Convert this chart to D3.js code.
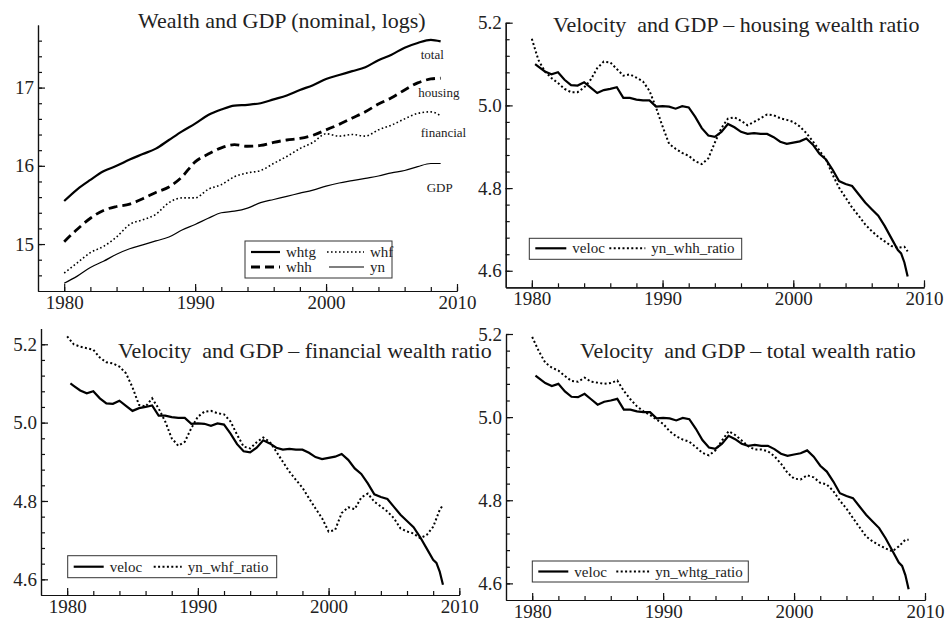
<!DOCTYPE html>
<html>
<head>
<meta charset="utf-8">
<script src="https://cdn.jsdelivr.net/npm/d3@7"></script>
<style>
  body { margin: 0; background: #fff; }
  svg text { font-family: "Liberation Serif", "DejaVu Serif", serif; fill: #222; white-space: pre; }
</style>
</head>
<body>
<div id="chart"></div>
<script>
// Size of the page
var width = 947;
var height = 621;

// Years (annual for the wealth panel, half-yearly for the ratio panels)
var wealthYears = d3.range(1980, 2009, 1).concat([2008.75]);
var ratioYears = d3.range(1980, 2008.51, 0.5).concat([2008.75]);
var velocYears = [1980.25].concat(d3.range(1980.5, 2008.01, 0.5), [2008.25, 2008.5, 2008.75]);

// Wealth and GDP (nominal, logs)
var whtg = [15.55, 15.70, 15.82, 15.93, 16.00, 16.08, 16.15, 16.22, 16.33, 16.44,
  16.54, 16.65, 16.72, 16.77, 16.78, 16.80, 16.85, 16.90, 16.97, 17.03,
  17.11, 17.16, 17.21, 17.26, 17.35, 17.42, 17.51, 17.57, 17.61, 17.59];
var whh = [15.03, 15.19, 15.33, 15.43, 15.48, 15.51, 15.58, 15.66, 15.73, 15.86,
  16.05, 16.15, 16.23, 16.27, 16.25, 16.26, 16.30, 16.33, 16.35, 16.39,
  16.46, 16.53, 16.61, 16.69, 16.79, 16.87, 16.97, 17.06, 17.11, 17.12];
var whf = [14.63, 14.76, 14.89, 14.97, 15.09, 15.25, 15.31, 15.38, 15.53, 15.59,
  15.59, 15.70, 15.76, 15.86, 15.91, 15.94, 16.03, 16.12, 16.22, 16.30,
  16.41, 16.38, 16.40, 16.38, 16.46, 16.52, 16.60, 16.67, 16.69, 16.64];
var yn = [14.50, 14.59, 14.70, 14.78, 14.87, 14.94, 14.99, 15.04, 15.09, 15.18,
  15.25, 15.33, 15.40, 15.42, 15.46, 15.53, 15.57, 15.61, 15.65, 15.69,
  15.74, 15.78, 15.81, 15.84, 15.87, 15.91, 15.94, 15.99, 16.03, 16.03];

// Velocity (same series in the three ratio panels)
var veloc = [5.100, 5.094, 5.082, 5.075, 5.080, 5.062, 5.049, 5.048, 5.056, 5.043,
  5.030, 5.037, 5.040, 5.044, 5.018, 5.018, 5.014, 5.012, 5.012, 4.997,
  4.998, 4.997, 4.992, 4.998, 4.995, 4.972, 4.945, 4.927, 4.924, 4.936,
  4.955, 4.947, 4.936, 4.931, 4.933, 4.931, 4.931, 4.923, 4.912, 4.907,
  4.910, 4.913, 4.920, 4.905, 4.883, 4.869, 4.845, 4.817, 4.810, 4.805,
  4.785, 4.765, 4.749, 4.733, 4.708, 4.679, 4.650, 4.642, 4.620, 4.586];

// GDP / wealth ratios
var ynWhhRatio = [5.161, 5.110, 5.082, 5.066, 5.054, 5.040, 5.032, 5.032, 5.043, 5.062,
  5.090, 5.106, 5.104, 5.088, 5.072, 5.075, 5.067, 5.058, 5.035, 4.995,
  4.949, 4.907, 4.895, 4.885, 4.878, 4.865, 4.858, 4.872, 4.910, 4.945,
  4.968, 4.971, 4.963, 4.952, 4.960, 4.969, 4.978, 4.976, 4.969, 4.965,
  4.960, 4.949, 4.933, 4.913, 4.891, 4.869, 4.833, 4.801, 4.777, 4.753,
  4.733, 4.712, 4.696, 4.682, 4.671, 4.660, 4.656, 4.658, 4.647];
var ynWhfRatio = [5.220, 5.200, 5.194, 5.190, 5.186, 5.166, 5.154, 5.151, 5.143, 5.126,
  5.090, 5.045, 5.041, 5.062, 5.036, 5.003, 4.960, 4.941, 4.951, 4.986,
  5.015, 5.028, 5.030, 5.024, 5.021, 5.003, 4.969, 4.939, 4.934, 4.950,
  4.962, 4.951, 4.926, 4.900, 4.875, 4.854, 4.834, 4.807, 4.781, 4.756,
  4.722, 4.726, 4.769, 4.784, 4.779, 4.809, 4.819, 4.798, 4.786, 4.773,
  4.756, 4.730, 4.722, 4.717, 4.705, 4.713, 4.734, 4.777, 4.790];
var ynWhtgRatio = [5.193, 5.159, 5.131, 5.119, 5.112, 5.099, 5.087, 5.085, 5.095, 5.085,
  5.083, 5.080, 5.082, 5.088, 5.063, 5.043, 5.026, 5.014, 5.005, 4.994,
  4.984, 4.966, 4.954, 4.946, 4.941, 4.928, 4.914, 4.908, 4.920, 4.944,
  4.966, 4.957, 4.944, 4.930, 4.922, 4.922, 4.918, 4.906, 4.888, 4.866,
  4.852, 4.850, 4.860, 4.855, 4.842, 4.838, 4.822, 4.799, 4.780, 4.757,
  4.735, 4.713, 4.701, 4.692, 4.684, 4.677, 4.689, 4.705, 4.705];

// Tick labels
var yearTicks = [1980, 1990, 2000, 2010];
var wealthTicks = [15, 16, 17];
var ratioTicks = [4.6, 4.8, 5.0, 5.2];

var svg = d3.select("#chart")
  .append("svg")
  .attr("width", width)
  .attr("height", height);

// Line styles
var styles = {
  thick: { width: 2.2, dash: null },
  dashed: { width: 2.8, dash: "9,5" },
  dotted: { width: 1.6, dash: "1.6,2.4" },
  thin: { width: 1.2, dash: null },
  dots: { width: 2, dash: "2,2.4" }
};

function drawPanel(p) {
  var x = d3.scaleLinear().domain([1978, 2010]).range([p.left, p.right]);
  var y = d3.scaleLinear().domain(p.yDomain).range([p.bottom, p.top]);
  var g = svg.append("g");

  // x axis: minor ticks every 2 years, labelled ticks every 10
  g.append("g")
    .attr("transform", "translate(0," + p.bottom + ")")
    .call(d3.axisBottom(x).tickValues(d3.range(1980, 2010.1, 2)).tickSize(-4).tickSizeOuter(0).tickFormat(""));
  g.append("g")
    .attr("transform", "translate(0," + p.bottom + ")")
    .call(d3.axisBottom(x).tickValues(yearTicks).tickSize(-7).tickSizeOuter(0).tickPadding(4.5).tickFormat(d3.format("d")));

  // y axis
  g.append("g")
    .attr("transform", "translate(" + p.left + ",0)")
    .call(d3.axisLeft(y).tickValues(p.minorTicks).tickSize(-4).tickSizeOuter(0).tickFormat(""));
  g.append("g")
    .attr("transform", "translate(" + p.left + ",0)")
    .call(d3.axisLeft(y).tickValues(p.yTicks).tickSize(-7).tickSizeOuter(0).tickPadding(4).tickFormat(d3.format(p.yFormat)));

  g.selectAll(".domain, .tick line").attr("stroke", "#111").attr("stroke-width", 1.2);
  g.selectAll(".tick text").style("font-size", "19px").attr("fill", "#222");

  // series
  p.series.forEach(function(s) {
    var st = styles[s.style];
    var line = d3.line()
      .x(function(d, i) { return x(s.years[i]); })
      .y(function(d) { return y(d); })
      .curve(p.curve || d3.curveLinear);
    g.append("path")
      .datum(s.values)
      .attr("d", line)
      .attr("fill", "none")
      .attr("stroke", "#000")
      .attr("stroke-width", st.width)
      .attr("stroke-dasharray", st.dash);
  });

  // title
  g.append("text")
    .attr("x", p.titleX)
    .attr("y", p.titleY)
    .style("font-size", "22px")
    .text(p.title);

  // legend
  var lg = g.append("g").attr("transform", "translate(" + p.legend.x + "," + p.legend.y + ")");
  lg.append("rect")
    .attr("width", p.legend.w)
    .attr("height", p.legend.h)
    .attr("fill", "#fff")
    .attr("stroke", "#333")
    .attr("stroke-width", 1);
  p.legend.items.forEach(function(it) {
    var st = styles[it.style];
    lg.append("line")
      .attr("x1", it.x).attr("x2", it.x + it.len)
      .attr("y1", it.y).attr("y2", it.y)
      .attr("stroke", "#000")
      .attr("stroke-width", st.width)
      .attr("stroke-dasharray", st.dash);
    lg.append("text")
      .attr("x", it.x + it.len + 6)
      .attr("y", it.y + 5)
      .style("font-size", "15px")
      .text(it.label);
  });

  // labels beside the lines
  (p.notes || []).forEach(function(n) {
    g.append("text")
      .attr("x", n.x)
      .attr("y", n.y)
      .style("font-size", "13px")
      .text(n.text);
  });
}

// Wealth and GDP
drawPanel({
  left: 38, right: 457, top: 25, bottom: 291,
  yDomain: [14.4, 17.8], yTicks: wealthTicks, minorTicks: d3.range(14.6, 17.71, 0.2), yFormat: "d",
  curve: d3.curveMonotoneX,
  title: "Wealth and GDP (nominal, logs)", titleX: 138, titleY: 28,
  series: [
    { years: wealthYears, values: whtg, style: "thick" },
    { years: wealthYears, values: whh, style: "dashed" },
    { years: wealthYears, values: whf, style: "dotted" },
    { years: wealthYears, values: yn, style: "thin" }
  ],
  legend: { x: 245, y: 241, w: 147, h: 37, items: [
    { x: 6, y: 11, len: 29, label: "whtg", style: "thick" },
    { x: 6, y: 26, len: 29, label: "whh", style: "dashed" },
    { x: 82, y: 11, len: 37, label: "whf", style: "dotted" },
    { x: 84, y: 26, len: 35, label: "yn", style: "thin" }
  ] },
  notes: [
    { x: 420.7, y: 59, text: "total" },
    { x: 418.3, y: 97, text: "housing" },
    { x: 420.7, y: 137, text: "financial" },
    { x: 426.7, y: 192, text: "GDP" }
  ]
});

// Velocity and the three wealth ratios
drawPanel({
  left: 505.7, right: 924, top: 22.7, bottom: 287.3,
  yDomain: [4.56, 5.2], yTicks: ratioTicks, minorTicks: d3.range(4.6, 5.201, 0.04), yFormat: ".1f",
  title: "Velocity  and GDP \u2013 housing wealth ratio", titleX: 553, titleY: 32,
  series: [
    { years: velocYears, values: veloc, style: "thick" },
    { years: ratioYears, values: ynWhhRatio, style: "dots" }
  ],
  legend: { x: 529.3, y: 238.3, w: 212.4, h: 21, items: [
    { x: 6, y: 10, len: 31, label: "veloc", style: "thick" },
    { x: 80, y: 10, len: 36, label: "yn_whh_ratio", style: "dots" }
  ] }
});

drawPanel({
  left: 41, right: 459.3, top: 328.6, bottom: 595,
  yDomain: [4.56, 5.24], yTicks: ratioTicks, minorTicks: d3.range(4.6, 5.201, 0.04), yFormat: ".1f",
  title: "Velocity  and GDP \u2013 financial wealth ratio", titleX: 118, titleY: 358,
  series: [
    { years: velocYears, values: veloc, style: "thick" },
    { years: ratioYears, values: ynWhfRatio, style: "dots" }
  ],
  legend: { x: 67.7, y: 555.7, w: 209, h: 22, items: [
    { x: 6, y: 11, len: 30, label: "veloc", style: "thick" },
    { x: 86, y: 11, len: 28, label: "yn_whf_ratio", style: "dots" }
  ] }
});

drawPanel({
  left: 506, right: 925, top: 334, bottom: 600,
  yDomain: [4.56, 5.2], yTicks: ratioTicks, minorTicks: d3.range(4.6, 5.201, 0.04), yFormat: ".1f",
  title: "Velocity  and GDP \u2013 total wealth ratio", titleX: 580, titleY: 358,
  series: [
    { years: velocYears, values: veloc, style: "thick" },
    { years: ratioYears, values: ynWhtgRatio, style: "dots" }
  ],
  legend: { x: 532.3, y: 561, w: 216, h: 21, items: [
    { x: 6, y: 10.5, len: 30, label: "veloc", style: "thick" },
    { x: 84, y: 10.5, len: 33, label: "yn_whtg_ratio", style: "dots" }
  ] }
});
</script>
</body>
</html>
